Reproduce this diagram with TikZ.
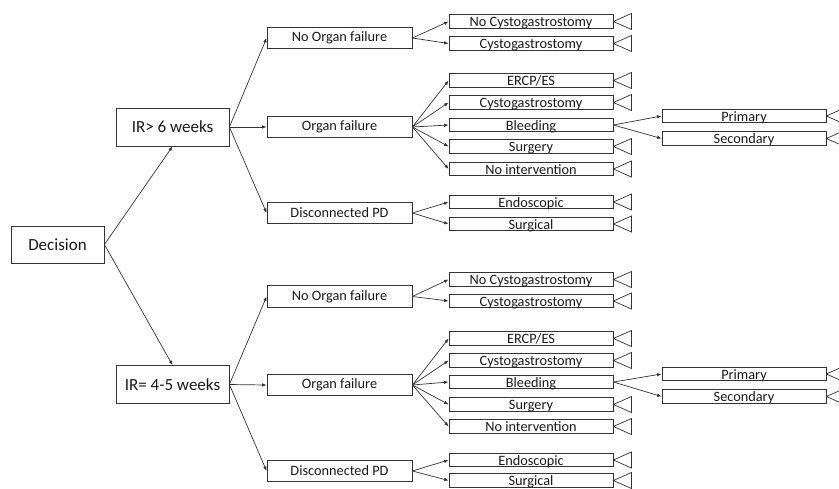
\documentclass[tikz,border=0pt]{standalone}
\usepackage{fontspec}
\setmainfont{Carlito}
\usetikzlibrary{arrows.meta}
\begin{document}
\begin{tikzpicture}[x=1pt,y=-1pt,
    every node/.style={draw=black!80,line width=0.8pt,inner sep=0pt,text=black!90},
    root/.style={minimum width=93pt,minimum height=37pt,font=\fontsize{17}{20}\selectfont},
    stage/.style={minimum width=113pt,minimum height=38pt,font=\fontsize{17}{20}\selectfont},
    branch/.style={minimum width=145pt,minimum height=21.5pt,font=\fontsize{14.3}{16}\selectfont},
    leaf/.style={minimum width=164pt,minimum height=13.5pt,text height=12pt,text depth=1.5pt,font=\fontsize{14.3}{16}\selectfont},
    arr/.style={draw=black!80,line width=0.7pt,-{Latex[length=4.5pt,width=3.5pt]}},
    term/.style={draw=black!80,line width=0.7pt}]

       \useasboundingbox (0,0) rectangle (839,488);

       % decision and waiting time
       \node[root] (dec) at (57.5,244.5) {Decision};
       \node[stage] (irsix) at (172.5,127) {IR> 6 weeks};
       \node[stage] (irfour) at (172.5,384.5) {IR= 4-5 weeks};

       % IR > 6 weeks
       \node[branch] (nof1) at (339.5,38) {No Organ failure};
       \node[branch] (of1) at (339.5,127) {Organ failure};
       \node[branch] (dpd1) at (339.5,213) {Disconnected PD};

       \node[leaf] (nocg1) at (531,21.5) {No Cystogastrostomy};
       \node[leaf] (cg1) at (531,43.5) {Cystogastrostomy};
       \node[leaf] (ercp1) at (531,80.5) {ERCP/ES};
       \node[leaf] (cgb1) at (531,102.5) {Cystogastrostomy};
       \node[leaf] (bleed1) at (531,125) {Bleeding};
       \node[leaf] (surg1) at (531,146.5) {Surgery};
       \node[leaf] (noint1) at (531,169) {No intervention};
       \node[leaf] (endo1) at (531,202) {Endoscopic};
       \node[leaf] (surgl1) at (531,224) {Surgical};
       \node[leaf] (prim1) at (744,116) {Primary};
       \node[leaf] (sec1) at (744,138.5) {Secondary};

       % IR = 4-5 weeks
       \node[branch] (nof2) at (339.5,296.5) {No Organ failure};
       \node[branch] (of2) at (339.5,385) {Organ failure};
       \node[branch] (dpd2) at (339.5,471) {Disconnected PD};

       \node[leaf] (nocg2) at (531,279.5) {No Cystogastrostomy};
       \node[leaf] (cg2) at (531,301) {Cystogastrostomy};
       \node[leaf] (ercp2) at (531,338.5) {ERCP/ES};
       \node[leaf] (cgb2) at (531,360.5) {Cystogastrostomy};
       \node[leaf] (bleed2) at (531,382) {Bleeding};
       \node[leaf] (surg2) at (531,404.5) {Surgery};
       \node[leaf] (noint2) at (531,426.5) {No intervention};
       \node[leaf] (endo2) at (531,460) {Endoscopic};
       \node[leaf] (surgl2) at (531,480.5) {Surgical};
       \node[leaf] (prim2) at (744,374) {Primary};
       \node[leaf] (sec2) at (744,396.5) {Secondary};

       \draw[arr] (dec.east) -- (irsix.south);
       \draw[arr] (dec.east) -- (irfour.north);

       \foreach \i/\s in {1/irsix,2/irfour} {
         \draw[arr] (\s.east) -- (nof\i.west);
         \draw[arr] (\s.east) -- (of\i.west);
         \draw[arr] (\s.east) -- (dpd\i.west);
         \draw[arr] (nof\i.east) -- (nocg\i.west);
         \draw[arr] (nof\i.east) -- (cg\i.west);
         \draw[arr] (of\i.east) -- (ercp\i.west);
         \draw[arr] (of\i.east) -- (cgb\i.west);
         \draw[arr] (of\i.east) -- (bleed\i.west);
         \draw[arr] (of\i.east) -- (surg\i.west);
         \draw[arr] (of\i.east) -- (noint\i.west);
         \draw[arr] (dpd\i.east) -- (endo\i.west);
         \draw[arr] (dpd\i.east) -- (surgl\i.west);
         \draw[arr] (bleed\i.east) -- (prim\i.west);
         \draw[arr] (bleed\i.east) -- (sec\i.west);
       }

       % terminal nodes
       \foreach \n in {nocg,cg,ercp,cgb,surg,noint,endo,surgl,prim,sec} {
         \draw[term] (\n1.east) -- ++(18,-8) -- ++(0,16) -- cycle;
         \draw[term] (\n2.east) -- ++(18,-8) -- ++(0,16) -- cycle;
       }
     \end{tikzpicture}
\end{document}
